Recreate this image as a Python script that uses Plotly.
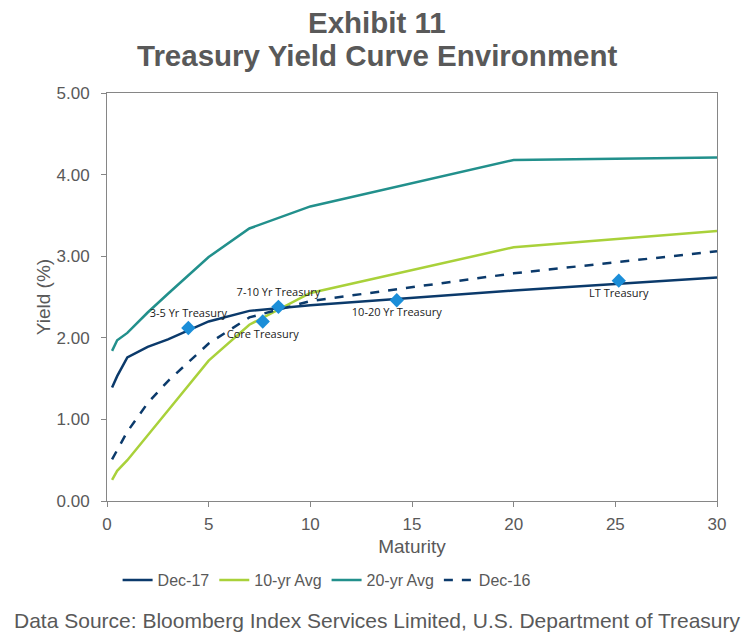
import plotly.graph_objects as go

# maturities in years
maturity = [0.25, 0.5, 1, 2, 3, 5, 7, 10, 20, 30]

dec_17 = [1.39, 1.53, 1.76, 1.89, 1.98, 2.20, 2.33, 2.40, 2.58, 2.74]
avg_10yr = [0.26, 0.37, 0.50, 0.80, 1.11, 1.72, 2.16, 2.55, 3.11, 3.31]
avg_20yr = [1.84, 1.97, 2.06, 2.31, 2.54, 2.99, 3.34, 3.61, 4.18, 4.21]
dec_16 = [0.51, 0.62, 0.85, 1.20, 1.47, 1.93, 2.25, 2.45, 2.79, 3.06]

# index positions (duration, yield)
idx_names = ["3-5 Yr Treasury", "Core Treasury", "7-10 Yr Treasury",
             "10-20 Yr Treasury", "LT Treasury"]
idx_x = [4.0, 7.66, 8.43, 14.25, 25.17]
idx_y = [2.12, 2.20, 2.38, 2.46, 2.70]
idx_pos = ["top center", "bottom center", "top center",
           "bottom center", "bottom center"]

GREY = "#595959"
AXIS = "#868686"
FONT = "Liberation Sans, Arial, sans-serif"

fig = go.Figure()
series = [
    ("Dec-17", dec_17, "#0b3a6b", "solid"),
    ("10-yr Avg", avg_10yr, "#a9d13a", "solid"),
    ("20-yr Avg", avg_20yr, "#22908c", "solid"),
    ("Dec-16", dec_16, "#0b3a6b", "dash"),
]
for name, vals, color, dash in series:
    fig.add_trace(go.Scatter(
        x=maturity, y=vals, mode="lines", name=name,
        line=dict(color=color, width=2.5, dash=dash),
    ))

fig.add_trace(go.Scatter(
    x=idx_x, y=idx_y, mode="markers+text", text=idx_names,
    textposition=idx_pos, showlegend=False,
    marker=dict(symbol="diamond", size=11, color="#1b8ed8"),
    textfont=dict(family="Open Sans, sans-serif", size=11, color="#1a1a1a"),
))

fig.update_layout(
    width=751, height=635,
    paper_bgcolor="white", plot_bgcolor="white",
    margin=dict(l=107, r=34, t=93, b=134),
    font=dict(family=FONT, size=17, color=GREY),
    xaxis=dict(
        range=[0, 30], dtick=5, showgrid=False, zeroline=False,
        showline=True, linecolor=AXIS, linewidth=1, mirror=True,
        ticks="outside", tickcolor=AXIS, ticklen=5, ticklabelstandoff=3,
        title=dict(text="Maturity", standoff=6, font=dict(size=19)),
    ),
    yaxis=dict(
        range=[0, 5], dtick=1, tickformat=".2f", showgrid=False, zeroline=False,
        showline=True, linecolor=AXIS, linewidth=1, mirror=True,
        ticks="outside", tickcolor=AXIS, ticklen=5, ticklabelstandoff=8,
        title=dict(text="Yield (%)", standoff=0, font=dict(size=19)),
    ),
    legend=dict(
        orientation="h", x=0.36, xanchor="center", y=-0.194, yanchor="middle",
        font=dict(size=16),
    ),
    annotations=[
        dict(text="<b>Exhibit 11</b>", xref="paper", yref="paper",
             x=0.443, xanchor="center", y=1.174, yanchor="middle",
             showarrow=False, font=dict(size=29.5, color=GREY)),
        dict(text="<b>Treasury Yield Curve Environment</b>", xref="paper",
             yref="paper", x=0.443, xanchor="center", y=1.093,
             yanchor="middle", showarrow=False,
             font=dict(size=29.5, color=GREY)),
        dict(text="Data Source: Bloomberg Index Services Limited, "
                  "U.S. Department of Treasury",
             xref="paper", yref="paper", x=0.443, xanchor="center",
             y=-0.292, yanchor="middle", showarrow=False,
             font=dict(size=21, color=GREY)),
    ],
)

fig.write_html("out.html", config={"displayModeBar": False},
               post_script="document.body.style.margin='0';")
